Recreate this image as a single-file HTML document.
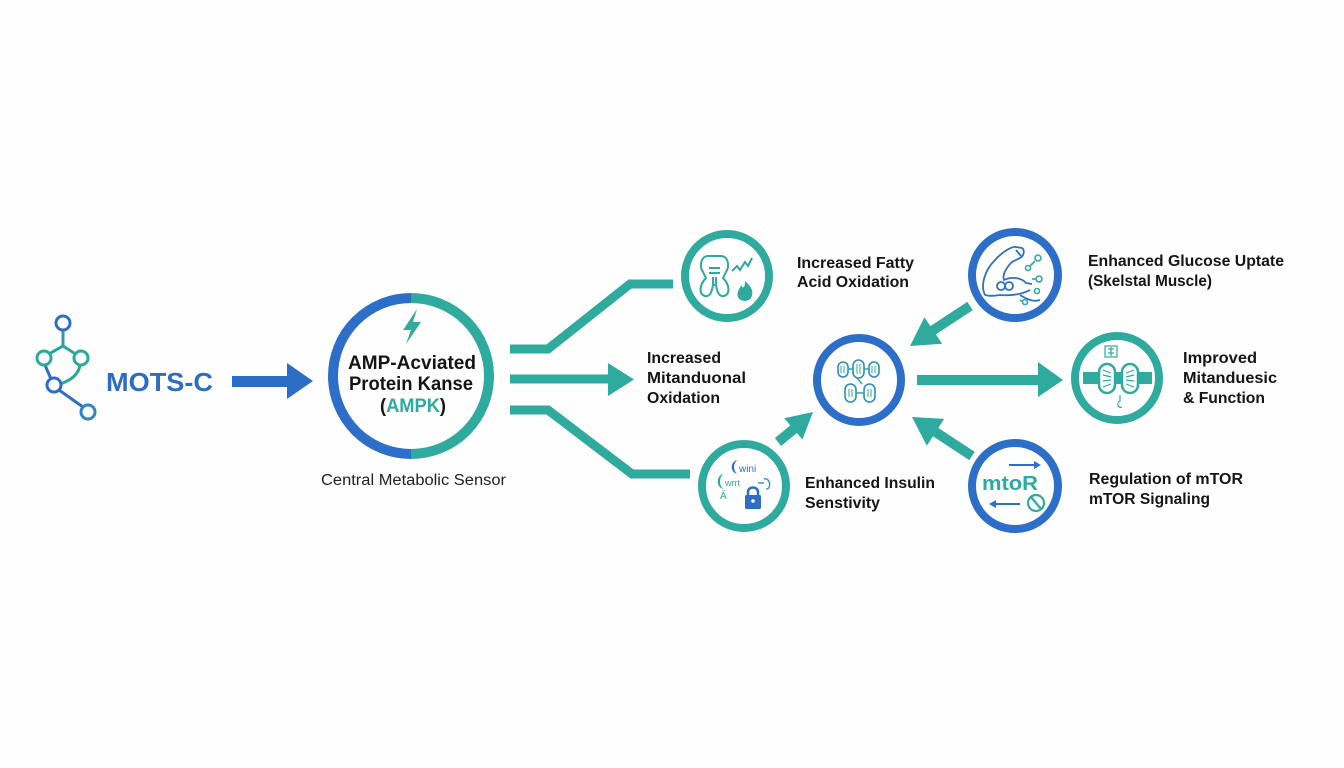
<!DOCTYPE html>
<html><head><meta charset="utf-8">
<style>
html,body{margin:0;padding:0;background:#fff;}
svg{display:block;}
text{font-family:"Liberation Sans",sans-serif;}
.b{font-weight:bold;fill:#151515;font-size:16px;}
</style></head>
<body>
<svg width="1344" height="768" viewBox="0 0 1344 768" xmlns="http://www.w3.org/2000/svg">
<rect width="1344" height="768" fill="#fefefe"/>

<!-- molecule -->
<g fill="none" stroke-width="3">
  <path d="M63 330 L63 346 L47 355" stroke="#2a9fa8"/>
  <path d="M63 346 L77 355" stroke="#2aa79b"/>
  <path d="M45 365 L51 379" stroke="#2e6fc4"/>
  <path d="M80 365 Q78 378 60 384" stroke="#2aa79b"/>
  <path d="M59 390 L83 407" stroke="#2e6fc4"/>
  <circle cx="63" cy="323" r="7" stroke="#2e6fc4" fill="#fff"/>
  <circle cx="44" cy="358" r="7" stroke="#2aaa9a" fill="#fff"/>
  <circle cx="81" cy="358" r="7" stroke="#2aaa9a" fill="#fff"/>
  <circle cx="54" cy="385" r="7" stroke="#2d6bc4" fill="#fff"/>
  <circle cx="88" cy="412" r="7" stroke="#2b86c4" fill="#fff"/>
</g>
<text x="106" y="391" font-size="26" font-weight="bold" fill="#2b6cc4" textLength="107" lengthAdjust="spacingAndGlyphs">MOTS-C</text>

<!-- arrow 1 -->
<rect x="232" y="376" width="57" height="11" fill="#2c6ec5"/>
<polygon points="287,363 313,381 287,399" fill="#2c6ec5"/>

<!-- AMPK -->
<path d="M411 298 A78 78 0 0 0 411 454" fill="none" stroke="#2d6fc8" stroke-width="10"/>
<path d="M411 298 A78 78 0 0 1 411 454" fill="none" stroke="#2eaa9e" stroke-width="10"/>
<polygon points="417,309 403,330 411,330 406,344 421,322 413,322" fill="#2eaa9e"/>
<text x="412" y="369" text-anchor="middle" font-size="19" font-weight="bold" fill="#151515" textLength="128" lengthAdjust="spacingAndGlyphs">AMP-Acviated</text>
<text x="411" y="390" text-anchor="middle" font-size="19" font-weight="bold" fill="#151515" textLength="124" lengthAdjust="spacingAndGlyphs">Protein Kanse</text>
<text x="413" y="412" text-anchor="middle" font-size="19" font-weight="bold" fill="#151515" textLength="66" lengthAdjust="spacingAndGlyphs">(<tspan fill="#2eaa9e">AMPK</tspan>)</text>
<text x="321" y="485" font-size="15.5" fill="#222" textLength="185" lengthAdjust="spacingAndGlyphs">Central Metabolic Sensor</text>

<!-- connectors from AMPK -->
<g fill="none" stroke="#2eaa9e" stroke-width="9">
  <polyline points="510,349 548,349 630,284 673,284"/>
  <line x1="510" y1="379" x2="612" y2="379"/>
  <polyline points="510,410 548,410 632,474 690,474"/>
</g>
<polygon points="608,363 634,379.5 608,396" fill="#2eaa9e"/>

<!-- circles -->
<g fill="#fff" stroke-width="8">
  <circle cx="727" cy="276" r="42" stroke="#2eaa9e"/>
  <circle cx="744" cy="486" r="42" stroke="#2eaa9e"/>
  <circle cx="859" cy="380" r="42" stroke="#2d6fc8"/>
  <circle cx="1015" cy="275" r="43" stroke="#2d6fc8"/>
  <circle cx="1117" cy="378" r="42" stroke="#2eaa9e"/>
  <circle cx="1015" cy="486" r="43" stroke="#2d6fc8"/>
</g>

<!-- arrows into / out of center -->
<g stroke="#2eaa9e" stroke-width="10" fill="none">
  <line x1="778" y1="442" x2="795" y2="428"/>
  <line x1="970" y1="306" x2="932" y2="331"/>
  <line x1="972" y1="456" x2="934" y2="431"/>
</g>
<polygon points="813,412 802.4,439.5 784.2,418.3" fill="#2eaa9e"/>
<polygon points="910,346 942.2,343.8 924.4,317.2" fill="#2eaa9e"/>
<polygon points="912,417 944.2,418.9 926.8,445.7" fill="#2eaa9e"/>
<rect x="917" y="375" width="123" height="10" fill="#2eaa9e"/>
<polygon points="1038,362 1063,380 1038,397" fill="#2eaa9e"/>

<!-- fatty acid icon -->
<g fill="none" stroke="#2eaa9e" stroke-width="2">
  <path d="M708 256 C701 256 699 266 703 272 L706 278 C700 284 698 294 705 296 C711 297 712 290 713 285 L716 285 C717 290 718 297 724 296 C731 294 729 284 723 278 L726 272 C730 266 728 256 721 256 Z"/>
  <path d="M709 268 L720 268 M709 273 L720 273 M713 277 L713 284 M716 277 L716 284"/>
  <path d="M732 271 L737 266 L740 270 L745 262 L748 266 L752 258"/>
</g>
<path d="M745 281 C752 287 754 292 751 298 C748 302 740 302 738 297 C736 292 740 289 741 285 C743 289 745 288 745 281 Z" fill="#2eaa9e"/>

<!-- insulin icon -->
<text x="739" y="472" font-size="10" fill="#2d6fc8" font-family="Liberation Serif,serif">wini</text>
<path d="M737 460 C730 462 730 472 737 474 C733 470 733 464 737 460 Z" fill="#2d6fc8"/>
<path d="M723 474 C716 476 716 487 723 489 C719 485 719 478 723 474 Z" fill="#2eaa9e"/>
<text x="725" y="486" font-size="9" fill="#2eaa9e" font-family="Liberation Serif,serif">wrrt</text>
<text x="720" y="499" font-size="10" fill="#2eaa9e">Ā</text>
<path d="M758 483 L764 483 M764 479 C770 477 772 489 766 489" fill="none" stroke="#2eaa9e" stroke-width="1.5"/>
<path d="M748 496 L748 492 C748 486 758 486 758 492 L758 496" fill="none" stroke="#2d6fc8" stroke-width="2.5"/>
<rect x="745" y="495" width="16" height="14" rx="1.5" fill="#2d6fc8"/>
<circle cx="753" cy="501" r="1.8" fill="#fff"/>

<!-- center mitochondria icon -->
<g fill="none" stroke-width="1.6">
  <rect x="838" y="362" width="10" height="15" rx="5" stroke="#2b8ec0"/>
  <rect x="853" y="360" width="11" height="18" rx="5.5" stroke="#2b8ec0"/>
  <rect x="869" y="362" width="10" height="15" rx="5" stroke="#2b8ec0"/>
  <rect x="845" y="384" width="11" height="18" rx="5.5" stroke="#2b8ec0"/>
  <rect x="864" y="384" width="11" height="18" rx="5.5" stroke="#2b8ec0"/>
  <path d="M848 369 L853 369 M864 369 L869 369 M856 393 L864 393 M857 378 L862 384" stroke="#2eaa9e"/>
  <path d="M841 366 L841 373 M844 366 L844 373 M857 364 L857 374 M860 364 L860 374 M872 366 L872 373 M875 366 L875 373 M849 389 L849 397 M852 389 L852 397 M868 389 L868 397 M871 389 L871 397" stroke="#2eaa9e" stroke-width="1"/>
</g>

<!-- muscle icon -->
<g fill="none" stroke="#2d6fc8" stroke-width="1.8">
  <path d="M985 295 C980 285 985 270 995 260 C1002 252 1012 246 1016 247 L1022 248 C1025 250 1024 256 1020 258 L1012 262 C1006 268 1002 275 1004 280 C1012 276 1022 278 1026 283 L1032 284 M1030 290 C1022 294 1012 296 1000 295 C994 296 988 296 985 295"/>
  <path d="M1016 250 L1021 256"/>
  <circle cx="1001" cy="286" r="4"/>
  <circle cx="1009" cy="286" r="4"/>
  <path d="M1020 295 C1028 300 1034 302 1040 300"/>
</g>
<g fill="none" stroke="#2eaa9e" stroke-width="1.6">
  <circle cx="1028" cy="268" r="2.5"/>
  <path d="M1030 266 L1035 261"/>
  <circle cx="1038" cy="258" r="3"/>
  <path d="M1032 279 L1036 279"/>
  <circle cx="1039" cy="279" r="3"/>
  <circle cx="1037" cy="291" r="2.5"/>
  <circle cx="1025" cy="302" r="2.5"/>
  <path d="M1020 300 L1023 302"/>
</g>

<!-- improved mito icon -->
<rect x="1083" y="372" width="69" height="12" fill="#2eaa9e"/>
<g stroke="#2eaa9e" stroke-width="2.5" fill="#fff">
  <rect x="1099" y="364" width="16" height="29" rx="8"/>
  <rect x="1122" y="364" width="16" height="29" rx="8"/>
</g>
<g stroke="#2eaa9e" stroke-width="1.2" fill="none">
  <path d="M1103 370 L1111 373 M1103 375 L1111 377 M1103 381 L1111 380 M1103 387 L1111 384"/>
  <path d="M1134 370 L1126 373 M1134 375 L1126 377 M1134 381 L1126 380 M1134 387 L1126 384"/>
  <rect x="1105" y="346" width="12" height="11"/>
  <path d="M1108 349 L1114 349 M1108 353 L1114 353 M1111 347 L1111 356"/>
  <path d="M1120 395 L1120 401 C1116 403 1118 409 1122 407"/>
</g>

<!-- mTOR icon -->
<text x="982" y="490" font-size="20" font-weight="bold" fill="#2eaa9e" textLength="56" lengthAdjust="spacingAndGlyphs">mtoR</text>
<path d="M1009 465 L1036 465" stroke="#2d6fc8" stroke-width="2"/>
<polygon points="1034,461 1041,465 1034,469" fill="#2d6fc8"/>
<path d="M994 504 L1020 504" stroke="#2d6fc8" stroke-width="2"/>
<polygon points="996,500 989,504 996,508" fill="#2d6fc8"/>
<circle cx="1036" cy="503" r="8" fill="none" stroke="#2eaa9e" stroke-width="2.2"/>
<path d="M1031 497 L1041 509" stroke="#2eaa9e" stroke-width="2.2"/>

<!-- labels -->
<text class="b" x="797" y="268" textLength="117" lengthAdjust="spacingAndGlyphs">Increased Fatty</text>
<text class="b" x="797" y="287" textLength="112" lengthAdjust="spacingAndGlyphs">Acid Oxidation</text>

<text class="b" x="647" y="363" textLength="74" lengthAdjust="spacingAndGlyphs">Increased</text>
<text class="b" x="647" y="383" textLength="99" lengthAdjust="spacingAndGlyphs">Mitanduonal</text>
<text class="b" x="647" y="403" textLength="73" lengthAdjust="spacingAndGlyphs">Oxidation</text>

<text class="b" x="805" y="488" textLength="130" lengthAdjust="spacingAndGlyphs">Enhanced Insulin</text>
<text class="b" x="805" y="508" textLength="75" lengthAdjust="spacingAndGlyphs">Senstivity</text>

<text class="b" x="1088" y="266" textLength="196" lengthAdjust="spacingAndGlyphs">Enhanced Glucose Uptate</text>
<text class="b" x="1088" y="286" textLength="124" lengthAdjust="spacingAndGlyphs">(Skelstal Muscle)</text>

<text class="b" x="1183" y="363" textLength="74" lengthAdjust="spacingAndGlyphs">Improved</text>
<text class="b" x="1183" y="383" textLength="94" lengthAdjust="spacingAndGlyphs">Mitanduesic</text>
<text class="b" x="1183" y="403" textLength="82" lengthAdjust="spacingAndGlyphs">&amp; Function</text>

<text class="b" x="1089" y="484" textLength="154" lengthAdjust="spacingAndGlyphs">Regulation of mTOR</text>
<text class="b" x="1089" y="504" textLength="121" lengthAdjust="spacingAndGlyphs">mTOR Signaling</text>
</svg>
</body></html>
